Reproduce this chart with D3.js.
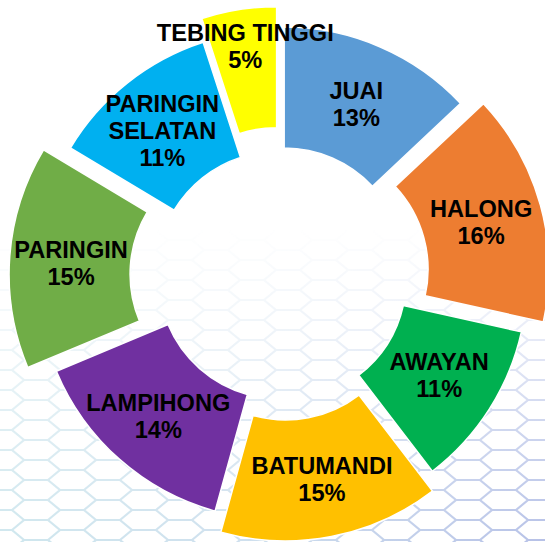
<!DOCTYPE html>
<html><head><meta charset="utf-8">
<script src="https://cdn.jsdelivr.net/npm/d3@7"></script>
<style>body{margin:0;background:#fff}svg{display:block}</style>
</head><body><svg id="c" width="545" height="542"></svg>
<script>
const categories = ["JUAI","HALONG","AWAYAN","BATUMANDI","LAMPIHONG","PARINGIN","PARINGIN SELATAN","TEBING TINGGI"];
const values = [13.0,15.5,11.1,14.7,14.4,14.9,11.4,5.0];
const labelLines = [["JUAI"],["HALONG"],["AWAYAN"],["BATUMANDI"],["LAMPIHONG"],["PARINGIN"],["PARINGIN","SELATAN"],["TEBING TINGGI"]];

// ---- style / layout config ----
const colors = ["#5B9BD5","#ED7D31","#00B050","#FFC000","#7030A0","#70AD47","#00B0F0","#FFFF00"];
const explodePx = [8,27,5,23,2,30,5,28];
const labelNudge = [[0,1.5],[-1,1],[1,-1.5],[2,2.3],[-1.4,2.3],[1,2],[-2.5,0],[-3,-23]];
const W = 545, H = 542;
const cx = 281, cy = 276.4, rIn = 121, rOut = 242;
const fontSize = 23.6, lineH = 27;

const svg = d3.select("#c");
const defs = svg.append("defs");

// background hexagon mesh, fading in toward the bottom
const grad = defs.append("linearGradient").attr("id","fadeG").attr("x1",0).attr("y1",0).attr("x2",0).attr("y2",1);
[[0,0],[0.42,0],[0.6,0.3],[0.8,0.7],[1,1]].forEach(([o,a])=>grad.append("stop").attr("offset",o).attr("stop-color","#fff").attr("stop-opacity",a));
defs.append("mask").attr("id","fade").append("rect").attr("width",W).attr("height",H).attr("fill","url(#fadeG)");
const sg = defs.append("linearGradient").attr("id","strokeG").attr("gradientUnits","userSpaceOnUse")
  .attr("x1",0).attr("y1",0).attr("x2",W).attr("y2",0);
sg.append("stop").attr("offset",0).attr("stop-color","#cfe7ee");
sg.append("stop").attr("offset",0.45).attr("stop-color","#cfe0ee");
sg.append("stop").attr("offset",1).attr("stop-color","#b6c1e7");

const hw = 48, hh = 20;
let hp = "";
for (let col = -1; col * 0.75 * hw < W + hw; col++) {
  for (let row = -1; row * hh < H + hh; row++) {
    const x = col * 0.75 * hw, y = row * hh + (col % 2 ? hh / 2 : 0);
    const pts = [[x-hw/2,y],[x-hw/4,y-hh/2],[x+hw/4,y-hh/2],[x+hw/2,y],[x+hw/4,y+hh/2],[x-hw/4,y+hh/2]];
    hp += "M" + pts.map(p => p.join(",")).join("L") + "Z";
  }
}
svg.append("g").attr("mask","url(#fade)")
  .append("path").attr("d",hp).attr("fill","none")
  .attr("stroke","url(#strokeG)").attr("stroke-width",2.2);

// donut
const pie = d3.pie().sort(null).value(d => d.v).startAngle(0).endAngle(2*Math.PI);
const rows = categories.map((c,i) => ({c, v: values[i], i}));
const arcs = pie(rows);
const arc = d3.arc().innerRadius(rIn).outerRadius(rOut);

const g = svg.append("g").attr("transform",`translate(${cx},${cy})`);
const slice = g.selectAll("g.s").data(arcs).join("g").attr("class","s")
  .attr("transform", d => {
    const a = (d.startAngle + d.endAngle) / 2, e = explodePx[d.data.i];
    return `translate(${e*Math.sin(a)},${-e*Math.cos(a)})`;
  });
slice.append("path").attr("d",arc).attr("fill",d => colors[d.data.i])
  .attr("stroke","#fff").attr("stroke-width",1.5);

const lbl = slice.append("text")
  .attr("font-family","'Liberation Sans', Arial, sans-serif")
  .attr("font-weight","bold").attr("font-size",fontSize).attr("fill","#000")
  .attr("text-anchor","middle")
  .attr("transform", d => {
    const [x,y] = arc.centroid(d), n = labelNudge[d.data.i];
    return `translate(${x+n[0]},${y+n[1]})`;
  });
lbl.each(function(d){
  const lines = labelLines[d.data.i].concat([Math.round(d.data.v) + "%"]);
  const t = d3.select(this);
  const y0 = -(lines.length - 1) * lineH / 2;
  lines.forEach((s,k) => t.append("tspan").attr("x",0).attr("y",y0 + k*lineH).attr("dy","0.36em").text(s));
});
</script></body></html>
